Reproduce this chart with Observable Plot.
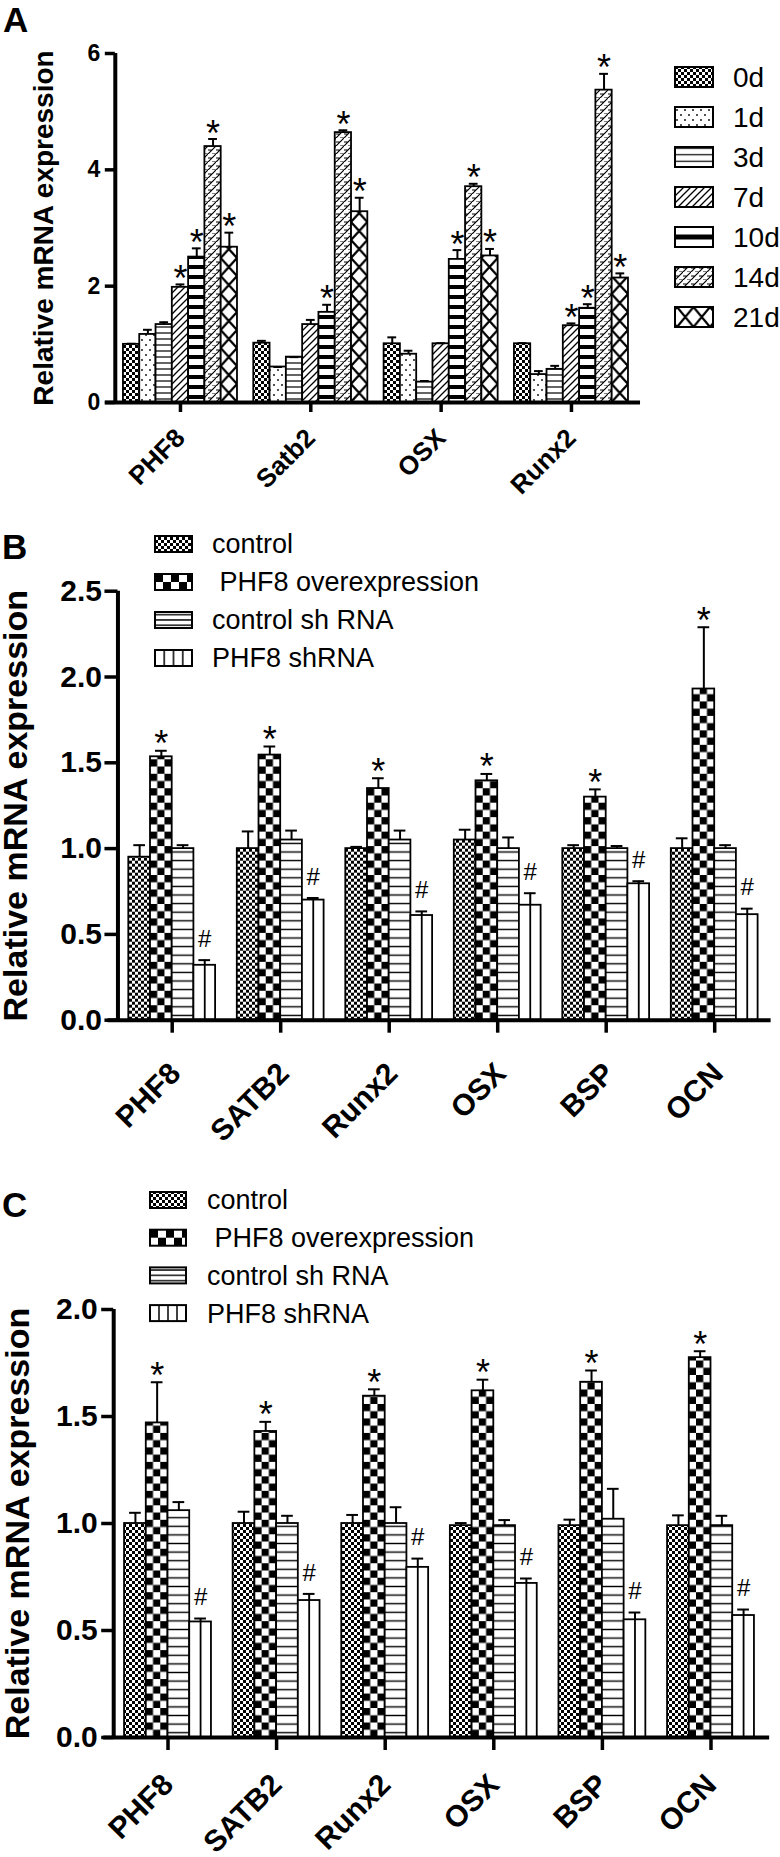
<!DOCTYPE html>
<html>
<head>
<meta charset="utf-8">
<script src="https://cdn.jsdelivr.net/npm/d3@7"></script>
<script src="https://cdn.jsdelivr.net/npm/@observablehq/plot@0.6"></script>
<style>
html, body { margin: 0; padding: 0; background: #fff; }
body { width: 780px; height: 1857px; position: relative; overflow: hidden; font-family: "Liberation Sans", Arial, sans-serif; }
.panel { position: absolute; left: 0; }
.panel svg { overflow: visible; }
.panel g[aria-label^="y-axis"] line, .panel g[aria-label^="y-axis"] path,
.panel g[aria-label^="x-axis"] line, .panel g[aria-label^="x-axis"] path { stroke: #000; stroke-width: 3.5px; }
.pA g[aria-label^="y-axis"] text { font: bold 23px "Liberation Sans", Arial, sans-serif; fill: #000; }
.pB g[aria-label^="y-axis"] text, .pC g[aria-label^="y-axis"] text { font: bold 30px "Liberation Sans", Arial, sans-serif; fill: #000; }
#overlay { position: absolute; left: 0; top: 0; pointer-events: none; }
#overlay text { font-family: "Liberation Sans", Arial, sans-serif; fill: #000; white-space: pre; }
</style>
</head>
<body>
<svg id="overlay" width="780" height="1857"><defs id="defs"></defs></svg>
<script>
// ================= DATA =================
// Panel A
const genesA = ["PHF8", "Satb2", "OSX", "Runx2"];
const daysA  = ["0d", "1d", "3d", "7d", "10d", "14d", "21d"];
const meanA_0d  = [1.00, 1.02, 1.01, 1.01];
const errA_0d   = [0.01, 0.04, 0.11, 0.01];
const meanA_1d  = [1.17, 0.61, 0.83, 0.48];
const errA_1d   = [0.08, 0.00, 0.06, 0.06];
const meanA_3d  = [1.34, 0.78, 0.35, 0.57];
const errA_3d   = [0.04, 0.00, 0.02, 0.06];
const meanA_7d  = [1.98, 1.34, 1.01, 1.32];
const errA_7d   = [0.05, 0.08, 0.01, 0.04];
const meanA_10d = [2.50, 1.55, 2.46, 1.62];
const errA_10d  = [0.15, 0.13, 0.16, 0.07];
const meanA_14d = [4.40, 4.64, 3.71, 5.37];
const errA_14d  = [0.13, 0.04, 0.05, 0.28];
const meanA_21d = [2.67, 3.28, 2.52, 2.14];
const errA_21d  = [0.25, 0.24, 0.12, 0.08];
const starA_0d  = [0, 0, 0, 0];
const starA_1d  = [0, 0, 0, 0];
const starA_3d  = [0, 0, 0, 0];
const starA_7d  = [1, 0, 0, 1];
const starA_10d = [1, 1, 1, 1];
const starA_14d = [1, 1, 1, 1];
const starA_21d = [1, 1, 1, 1];
const yTicksA = [0, 2, 4, 6];

// Panels B and C
const genesBC  = ["PHF8", "SATB2", "Runx2", "OSX", "BSP", "OCN"];
const groupsBC = ["control", " PHF8 overexpression", "control sh RNA", "PHF8 shRNA"];
const marksBC  = ["", "*", "", "#"];

const meanB_control = [0.95, 1.00, 1.00, 1.05, 1.00, 1.00];
const errB_control  = [0.07, 0.10, 0.01, 0.06, 0.02, 0.06];
const meanB_over    = [1.535, 1.545, 1.35, 1.395, 1.30, 1.93];
const errB_over     = [0.035, 0.05, 0.06, 0.04, 0.045, 0.36];
const meanB_ctrlsh  = [1.00, 1.05, 1.05, 1.00, 1.00, 1.00];
const errB_ctrlsh   = [0.02, 0.055, 0.055, 0.065, 0.015, 0.02];
const meanB_sh      = [0.32, 0.70, 0.61, 0.67, 0.795, 0.615];
const errB_sh       = [0.03, 0.012, 0.024, 0.07, 0.015, 0.035];
const yTicksB = [0, 0.5, 1, 1.5, 2, 2.5];

const meanC_control = [1.00, 1.00, 1.00, 0.99, 0.99, 0.99];
const errC_control  = [0.05, 0.055, 0.04, 0.012, 0.028, 0.048];
const meanC_over    = [1.47, 1.43, 1.595, 1.62, 1.66, 1.775];
const errC_over     = [0.19, 0.045, 0.032, 0.052, 0.055, 0.03];
const meanC_ctrlsh  = [1.06, 1.00, 1.00, 0.99, 1.02, 0.99];
const errC_ctrlsh   = [0.04, 0.036, 0.076, 0.026, 0.142, 0.046];
const meanC_sh      = [0.54, 0.64, 0.795, 0.72, 0.55, 0.57];
const errC_sh       = [0.016, 0.031, 0.041, 0.023, 0.034, 0.028];
const yTicksC = [0, 0.5, 1, 1.5, 2];

const yLabel = "Relative mRNA expression";

// ================= BUILD =================
const FONT = "Liberation Sans, Arial, sans-serif";
const defs = d3.select("#defs");
const overlay = d3.select("#overlay");

function rowsOf(genes, series, means, errs, markFn) {
  return series.flatMap((s, si) => genes.map((g, gi) => ({
    gene: g, gi, series: s, si, mean: means[si][gi], err: errs[si][gi], mark: markFn(si, gi)
  })));
}

const rowsA = rowsOf(genesA, daysA,
  [meanA_0d, meanA_1d, meanA_3d, meanA_7d, meanA_10d, meanA_14d, meanA_21d],
  [errA_0d, errA_1d, errA_3d, errA_7d, errA_10d, errA_14d, errA_21d],
  (si, gi) => [starA_0d, starA_1d, starA_3d, starA_7d, starA_10d, starA_14d, starA_21d][si][gi] ? "*" : "");
const rowsB = rowsOf(genesBC, groupsBC,
  [meanB_control, meanB_over, meanB_ctrlsh, meanB_sh],
  [errB_control, errB_over, errB_ctrlsh, errB_sh], (si) => marksBC[si]);
const rowsC = rowsOf(genesBC, groupsBC,
  [meanC_control, meanC_over, meanC_ctrlsh, meanC_sh],
  [errC_control, errC_over, errC_ctrlsh, errC_sh], (si) => marksBC[si]);

// ---- pattern helpers ----
function pattern(id, w, h, x, y, draw) {
  const p = defs.append("pattern").attr("id", id).attr("patternUnits", "userSpaceOnUse")
    .attr("width", w).attr("height", h).attr("x", x).attr("y", y);
  p.append("rect").attr("width", w).attr("height", h).attr("fill", "white");
  draw(p, w, h);
  return `url(#${id})`;
}
const P = {
  fine: (id, x, y, c = 3) => pattern(id, 2 * c, 2 * c, x, y, p => {
    p.append("rect").attr("width", c).attr("height", c);
    p.append("rect").attr("x", c).attr("y", c).attr("width", c).attr("height", c);
  }),
  big: (id, x, y, c) => pattern(id, 2 * c, 2 * c, x, y, p => {
    p.append("rect").attr("width", c).attr("height", c);
    p.append("rect").attr("x", c).attr("y", c).attr("width", c).attr("height", c);
  }),
  dots: (id, x, y) => pattern(id, 8, 10, x, y, p => {
    p.append("circle").attr("cx", 2).attr("cy", 3).attr("r", 0.9);
    p.append("circle").attr("cx", 6).attr("cy", 8).attr("r", 0.9);
  }),
  hlines: (id, x, y, per, th) => pattern(id, 10, per, x, y, p => {
    p.append("rect").attr("y", (per - th) / 2).attr("width", 10).attr("height", th);
  }),
  vlines: (id, x, y, per, th) => pattern(id, per, 10, x, y, p => {
    p.append("rect").attr("x", per - th / 2).attr("width", th).attr("height", 10);
    p.append("rect").attr("x", -th / 2).attr("width", th).attr("height", 10);
  }),
  diag: (id, x, y, s = 7) => pattern(id, s, s, x, y, p => {
    p.append("path").attr("d", `M-1,1L1,-1M0,${s}L${s},0M${s - 1},${s + 1}L${s + 1},${s - 1}`)
      .attr("stroke", "black").attr("stroke-width", 1.3);
  }),
  thick: (id, x, y) => pattern(id, 10, 10, x, y, p => {
    p.append("rect").attr("y", 3).attr("width", 10).attr("height", 4);
  }),
  zig: (id, x, y) => pattern(id, 8, 8, x, y, p => {
    p.append("path").attr("d", "M-1,9L9,-1M0,4H4M4,8H8M-4,8H0")
      .attr("stroke", "black").attr("stroke-width", 1.2);
  }),
  cross: (id, x, y, w, h) => pattern(id, w, h, x, y, p => {
    p.append("path").attr("d", `M0,0L${w},${h}M${w},0L0,${h}`)
      .attr("stroke", "black").attr("stroke-width", 2.2);
  })
};

// ---- panel drawing ----
function drawPanel(cfg) {
  const n = cfg.series.length;
  const x0 = -0.5, x1 = cfg.genes.length - 0.5 + cfg.extraRight;
  const marginLeft = cfg.axisPx;
  const marginRight = 780 - (cfg.axisPx + (x1 - x0) * cfg.step);
  const marginTop = cfg.yPxMax - cfg.top;
  const marginBottom = cfg.top + cfg.height - cfg.yPx0;
  const bw = cfg.bw;
  const xc = d => d.gi + (d.si - (n - 1) / 2) * bw;
  const cap = bw * 0.27;
  const hi = d => d.mean + d.err;

  const marks = [
    Plot.rect(cfg.rows, {
      x1: d => xc(d) - bw / 2, x2: d => xc(d) + bw / 2, y1: 0, y2: "mean",
      fill: d => cfg.fills[d.si], stroke: "black", strokeWidth: 1.8
    })
  ];
  if (cfg.centerLineSeries != null) {
    marks.push(Plot.ruleX(cfg.rows, {
      filter: d => d.si === cfg.centerLineSeries, x: xc, y1: 0, y2: "mean", stroke: "black", strokeWidth: 1.8
    }));
  }
  marks.push(
    Plot.ruleX(cfg.rows, {x: xc, y1: "mean", y2: hi, stroke: "black", strokeWidth: 2}),
    Plot.ruleY(cfg.rows, {y: hi, x1: d => xc(d) - cap, x2: d => xc(d) + cap, stroke: "black", strokeWidth: 2}),
    Plot.ruleX([x0], {y1: 0, y2: cfg.yMax, stroke: "black", strokeWidth: 4}),
    Plot.ruleY([0], {x1: x0 - 10 / cfg.step, x2: x1, stroke: "black", strokeWidth: 4}),
    Plot.text(cfg.rows, {
      filter: d => d.mark === "*", x: xc, y: hi, text: "mark", dy: cfg.starDy,
      fontSize: cfg.starSize, fontFamily: FONT, fill: "black"
    }),
    Plot.text(cfg.rows, {
      filter: d => d.mark === "#", x: xc, y: hi, text: "mark", dy: cfg.hashDy,
      fontSize: cfg.hashSize, fontFamily: FONT, fill: "black"
    }),
    Plot.text(cfg.genes, {
      x: (d, i) => i, y: 0, text: d => d, rotate: -45, textAnchor: "end", lineAnchor: "top",
      dx: cfg.labDx, dy: cfg.labDy, fontSize: cfg.labSize, fontWeight: "bold", fontFamily: FONT, fill: "black"
    }),
    Plot.text([yLabel], {
      x: x0, y: cfg.yMax / 2, text: d => d, rotate: -90, dx: cfg.yLabX - cfg.axisPx,
      fontSize: cfg.yLabSize, fontWeight: "bold", fontFamily: FONT, fill: "black"
    })
  );

  const plot = Plot.plot({
    width: 780, height: cfg.height,
    marginLeft, marginRight, marginTop, marginBottom,
    style: {background: "transparent", color: "black", fontFamily: FONT, overflow: "visible"},
    color: {type: "identity"},
    x: {domain: [x0, x1], ticks: d3.range(cfg.genes.length), tickSize: cfg.xTickSize, tickFormat: () => "", label: null},
    y: {domain: [0, cfg.yMax], ticks: cfg.yTicks, tickSize: cfg.yTickSize, tickPadding: cfg.yTickPad,
        tickFormat: cfg.yFmt, label: null},
    marks
  });
  const div = document.createElement("div");
  div.className = "panel " + cfg.cls;
  div.style.top = cfg.top + "px";
  div.appendChild(plot);
  document.body.insertBefore(div, document.getElementById("overlay"));
}

function pxX(cfg, v) { return cfg.axisPx + (v + 0.5) * cfg.step; }

// ---------- Panel A ----------
const cfgA = {
  cls: "pA", rows: rowsA, genes: genesA, series: daysA, top: 0, height: 500,
  yMax: 6, yTicks: yTicksA, yFmt: d => String(d), yPx0: 402, yPxMax: 53,
  axisPx: 114.8, step: 130.33, bw: 0.125, extraRight: 0.03,
  xTickSize: 10, yTickSize: 10, yTickPad: 5,
  starSize: 36, starDy: -5, hashSize: 24, hashDy: -20,
  labSize: 26, labDx: -7, labDy: 24, yLabSize: 28, yLabX: 44
};
{
  const y0 = cfgA.yPx0 - cfgA.top;
  const barW = cfgA.bw * cfgA.step;
  cfgA.fills = [
    P.fine("pa0", 0, y0),
    P.dots("pa1", 0, y0),
    P.hlines("pa2", 0, y0, 6, 1.2),
    P.diag("pa3", 0, y0),
    P.thick("pa4", 0, y0),
    P.zig("pa5", 0, y0),
    P.cross("pa6", pxX(cfgA, 3 * cfgA.bw - cfgA.bw / 2), y0, barW, 18)
  ];
}
drawPanel(cfgA);

// ---------- Panel B ----------
const cfgB = {
  cls: "pB", rows: rowsB, genes: genesBC, series: groupsBC, top: 500, height: 665,
  yMax: 2.5, yTicks: yTicksB, yFmt: d3.format(".1f"), yPx0: 1019.7, yPxMax: 590.7,
  axisPx: 117.45, step: 108.5, bw: 0.2, extraRight: 0.02,
  xTickSize: 13, yTickSize: 13, yTickPad: 3,
  starSize: 36, starDy: -6, hashSize: 24, hashDy: -21,
  labSize: 30, labDx: -5, labDy: 40, yLabSize: 34, yLabX: 16, centerLineSeries: 3
};
{
  const y0 = cfgB.yPx0 - cfgB.top;
  const cell = cfgB.bw * cfgB.step / 3;
  cfgB.fills = [
    P.fine("pb0", 0, y0),
    P.big("pb1", pxX(cfgB, -0.5 * cfgB.bw - cfgB.bw / 2), y0, cell),
    P.hlines("pb2", 0, y0, 8.6, 1.4),
    "white"
  ];
}
drawPanel(cfgB);

// ---------- Panel C ----------
const cfgC = {
  cls: "pC", rows: rowsC, genes: genesBC, series: groupsBC, top: 1165, height: 692,
  yMax: 2.0, yTicks: yTicksC, yFmt: d3.format(".1f"), yPx0: 1737, yPxMax: 1309,
  axisPx: 113.2, step: 108.6, bw: 0.2, extraRight: 0.04,
  xTickSize: 13, yTickSize: 12, yTickPad: 4,
  starSize: 36, starDy: -6, hashSize: 24, hashDy: -21,
  labSize: 30, labDx: -8, labDy: 34, yLabSize: 34, yLabX: 18, centerLineSeries: 3
};
{
  const y0 = cfgC.yPx0 - cfgC.top;
  const cell = cfgC.bw * cfgC.step / 3;
  cfgC.fills = [
    P.fine("pc0", 0, y0),
    P.big("pc1", pxX(cfgC, -0.5 * cfgC.bw - cfgC.bw / 2), y0, cell),
    P.hlines("pc2", 0, y0, 8.6, 1.4),
    "white"
  ];
}
drawPanel(cfgC);

// ================= LEGENDS & PANEL LETTERS (overlay) =================
function legend(items, o) {
  items.forEach((name, i) => {
    const cy = o.y + i * o.gap;
    overlay.append("rect").attr("x", o.x).attr("y", cy - o.h / 2).attr("width", o.w).attr("height", o.h)
      .attr("fill", o.fills[i]).attr("stroke", "black").attr("stroke-width", 2);
    overlay.append("text").attr("x", o.tx).attr("y", cy).attr("dy", "0.35em")
      .attr("font-size", o.size).text(name);
  });
}
{
  const x = 675, w = 38, h = 20, y = 77, gap = 40;
  legend(daysA, {
    x, w, h, y, gap, tx: 733, size: 28,
    fills: [
      P.fine("la0", x, 0), P.dots("la1", x, y - h / 2), P.hlines("la2", x, y - h / 2, 6.5, 1.2),
      P.diag("la3", x, 0), pattern("la4", 10, 2000, x, y + 4 * gap - h / 2, p => {
        p.append("rect").attr("y", h / 2 - 2.5).attr("width", 10).attr("height", 5);
      }), P.zig("la5", x, 0), P.cross("la6", x + 2, y + 6 * gap - h / 2, 16.5, h)
    ]
  });
}
{
  const x = 155, w = 37, h = 16, y = 544, gap = 38;
  legend(groupsBC, {
    x, w, h, y, gap, tx: 212, size: 27,
    fills: [P.fine("lb0", x, 0), P.big("lb1", x, y + gap - h / 2, 8), P.hlines("lb2", x, y + 2 * gap - h / 2, 5.3, 1.4),
            P.vlines("lb3", x, 0, w / 4, 1.5)]
  });
}
{
  const x = 150, w = 36, h = 16, y = 1200, gap = 37.7;
  legend(groupsBC, {
    x, w, h, y, gap, tx: 207, size: 27,
    fills: [P.fine("lc0", x, 0), P.big("lc1", x, y + gap - h / 2, 8), P.hlines("lc2", x, y + 2 * gap - h / 2, 5.3, 1.4),
            P.vlines("lc3", x, 0, w / 4, 1.5)]
  });
}
[["A", 3, 32], ["B", 2, 559], ["C", 2, 1217]].forEach(([t, x, y]) => {
  overlay.append("text").attr("x", x).attr("y", y).attr("font-size", 35).attr("font-weight", "bold").text(t);
});
</script>
</body>
</html>
